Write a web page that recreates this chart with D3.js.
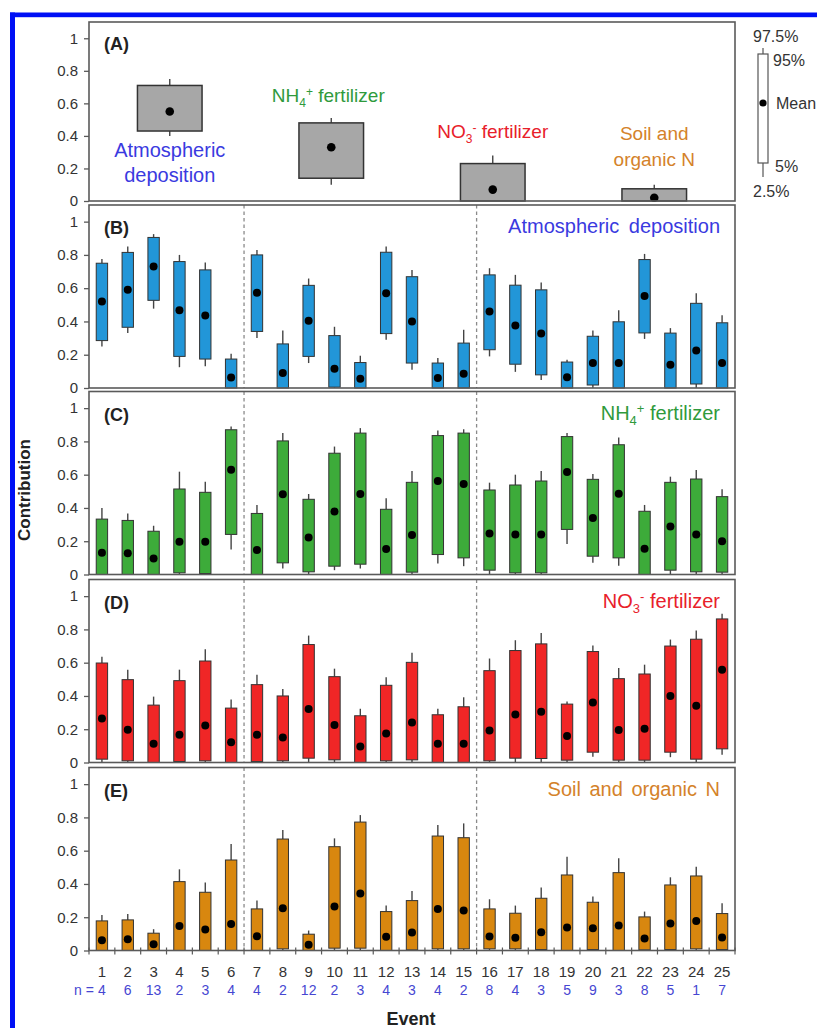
<!DOCTYPE html>
<html>
<head>
<meta charset="utf-8">
<script src="https://cdn.jsdelivr.net/npm/d3@7"></script>
<style>
  html, body { margin: 0; padding: 0; background: #fff; }
  svg { display: block; }
  text { font-family: "Liberation Sans", Arial, sans-serif; }
</style>
</head>
<body>
<svg id="chart" width="817" height="1028"></svg>
<script>
// ---------------- DATA ----------------
const events = d3.range(1, 26);
const nCounts = [4, 6, 13, 2, 3, 4, 4, 2, 12, 2, 3, 4, 3, 4, 2, 8, 4, 3, 5, 9, 3, 8, 5, 1, 7];
const yTickValues = [0, 0.2, 0.4, 0.6, 0.8, 1];
const sources = ["Atmospheric deposition", "NH4+ fertilizer", "NO3- fertilizer", "Soil and organic N"];
// Panel A: overall contribution [p2.5, p5, mean, p95, p97.5]
const overallContribution = [
  [0.40, 0.43, 0.55, 0.71, 0.75],
  [0.10, 0.14, 0.33, 0.48, 0.51],
  [0.00, 0.00, 0.07, 0.23, 0.28],
  [0.00, 0.00, 0.02, 0.075, 0.10]
];
// Per-event [p2.5, p5, mean, p95, p97.5]
const atmosphericDeposition = [
  [0.25,0.285,0.52,0.75,0.775],[0.33,0.365,0.59,0.815,0.85],[0.477,0.527,0.73,0.905,0.925],
  [0.125,0.19,0.467,0.76,0.80],[0.13,0.174,0.436,0.71,0.755],[0,0,0.063,0.174,0.206],
  [0.30,0.34,0.573,0.80,0.83],[0,0,0.09,0.265,0.345],[0.15,0.19,0.404,0.617,0.658],
  [0,0.005,0.115,0.315,0.368],[0,0,0.055,0.153,0.194],[0.29,0.327,0.57,0.816,0.85],
  [0.11,0.15,0.40,0.669,0.71],[0,0,0.06,0.15,0.18],[0,0,0.085,0.27,0.35],
  [0.19,0.23,0.46,0.68,0.72],[0.097,0.143,0.376,0.618,0.68],[0.048,0.079,0.327,0.59,0.634],
  [0,0,0.065,0.156,0.17],[0,0.018,0.15,0.311,0.345],[0,0,0.15,0.398,0.467],
  [0.295,0.331,0.553,0.772,0.806],[0,0,0.14,0.33,0.36],[0,0.024,0.226,0.509,0.57],
  [0,0,0.15,0.392,0.438]
];
const nh4Fertilizer = [
  [0,0,0.13,0.333,0.40],[0,0,0.127,0.325,0.367],[0,0,0.096,0.26,0.293],
  [0,0.01,0.197,0.514,0.618],[0,0.006,0.197,0.494,0.558],[0.15,0.241,0.63,0.87,0.89],
  [0,0,0.147,0.367,0.418],[0.036,0.07,0.482,0.803,0.85],[0,0.016,0.223,0.452,0.484],
  [0.026,0.05,0.378,0.729,0.769],[0.036,0.062,0.484,0.85,0.88],[0,0,0.153,0.392,0.458],
  [0,0.014,0.237,0.554,0.622],[0.066,0.12,0.562,0.835,0.865],[0.05,0.10,0.544,0.85,0.873],
  [0,0.026,0.247,0.508,0.552],[0,0.01,0.241,0.538,0.60],[0,0.01,0.241,0.562,0.622],
  [0.183,0.271,0.616,0.829,0.85],[0.07,0.11,0.339,0.572,0.604],[0.052,0.10,0.486,0.78,0.823],
  [0,0,0.155,0.38,0.418],[0,0.026,0.289,0.554,0.588],[0,0.016,0.241,0.574,0.628],
  [0,0.014,0.20,0.468,0.512]
];
const no3Fertilizer = [
  [0,0.02,0.265,0.598,0.635],[0,0.01,0.197,0.498,0.558],[0,0,0.112,0.345,0.396],
  [0,0.006,0.167,0.492,0.558],[0,0.01,0.223,0.61,0.68],[0,0,0.122,0.327,0.378],
  [0,0.006,0.167,0.468,0.528],[0,0.01,0.151,0.40,0.442],[0,0.026,0.321,0.709,0.763],
  [0,0.016,0.225,0.516,0.564],[0,0,0.096,0.281,0.323],[0,0.01,0.175,0.464,0.512],
  [0,0.016,0.241,0.602,0.659],[0,0,0.112,0.287,0.323],[0,0,0.112,0.335,0.392],
  [0,0.01,0.193,0.552,0.625],[0,0.026,0.289,0.673,0.735],[0,0.024,0.305,0.713,0.779],
  [0,0.014,0.159,0.351,0.367],[0.034,0.062,0.361,0.667,0.703],[0,0.014,0.195,0.504,0.568],
  [0,0.014,0.203,0.532,0.588],[0.032,0.062,0.40,0.70,0.739],[0,0.02,0.341,0.741,0.793],
  [0.046,0.082,0.558,0.863,0.894]
];
const soilOrganicN = [
  [0,0,0.062,0.178,0.214],[0,0,0.068,0.184,0.22],[0,0,0.038,0.104,0.128],
  [0,0,0.148,0.414,0.488],[0,0,0.126,0.35,0.408],[0,0,0.16,0.544,0.64],
  [0,0,0.086,0.25,0.30],[0,0.01,0.254,0.67,0.724],[0,0,0.034,0.098,0.12],
  [0,0.014,0.264,0.624,0.674],[0,0.014,0.342,0.772,0.814],[0,0,0.082,0.234,0.27],
  [0,0.004,0.108,0.30,0.358],[0,0.01,0.25,0.688,0.754],[0,0.01,0.24,0.678,0.764],
  [0,0.01,0.084,0.25,0.308],[0,0.01,0.076,0.224,0.27],[0,0.006,0.11,0.314,0.378],
  [0,0,0.138,0.454,0.564],[0,0.006,0.134,0.29,0.324],[0,0,0.15,0.468,0.554],
  [0,0.004,0.072,0.202,0.234],[0,0.006,0.162,0.394,0.44],[0,0.01,0.178,0.448,0.504],
  [0,0.006,0.078,0.222,0.284]
];
const legendLabels = ["2.5%", "5%", "Mean", "95%", "97.5%"];
const periodBreaks = [7, 16];

// ---------------- DRAW ----------------
const svg = d3.select("#chart");
const X0 = 89, X1 = 735;
const frameColor = "#5a5a5a";
const boxStroke = "#333";

// blue outer border
svg.append("rect").attr("x", 10).attr("y", 12.5).attr("width", 807).attr("height", 4.7).attr("fill", "#0010f5");
svg.append("rect").attr("x", 10).attr("y", 12.5).attr("width", 5).attr("height", 1016).attr("fill", "#0010f5");

function yAxis(g, y) {
  const ax = d3.axisLeft(y).tickValues(yTickValues).tickFormat(d3.format("")).tickSize(5).tickPadding(6).tickSizeOuter(0);
  g.call(ax);
  g.select(".domain").remove();
  g.selectAll(".tick line").attr("stroke", frameColor).attr("stroke-width", 1.3);
  g.selectAll(".tick text").attr("font-size", 15).attr("fill", "#333").attr("font-family", "'Liberation Sans', Arial, sans-serif");
}

function frame(top, zero) {
  svg.append("rect").attr("x", X0).attr("y", top).attr("width", X1 - X0).attr("height", zero - top)
    .attr("fill", "none").attr("stroke", frameColor).attr("stroke-width", 1.6);
}

function panelLabel(txt, top) {
  svg.append("text").attr("x", 104).attr("y", top + 29).attr("font-size", 18).attr("font-weight", "bold")
    .attr("fill", "#222").text(txt);
}

// ---- Panel A ----
{
  const top = 22, zero = 201;
  const y = d3.scaleLinear().domain([0, 1.1]).range([zero, top]);
  const x = d3.scaleBand().domain(sources).range([X0, X1]);
  const bw = x.bandwidth() * 0.4;
  const g = svg.append("g");
  overallContribution.forEach((d, i) => {
    const cx = x(sources[i]) + x.bandwidth() / 2;
    g.append("line").attr("x1", cx).attr("x2", cx).attr("y1", y(d[3])).attr("y2", y(d[4])).attr("stroke", "#444").attr("stroke-width", 1.4);
    if (d[1] > d[0]) g.append("line").attr("x1", cx).attr("x2", cx).attr("y1", y(d[0])).attr("y2", y(d[1])).attr("stroke", "#444").attr("stroke-width", 1.4);
    g.append("rect").attr("x", cx - bw / 2).attr("y", y(d[3])).attr("width", bw).attr("height", y(d[1]) - y(d[3]))
      .attr("fill", "#a7a7a7").attr("stroke", boxStroke).attr("stroke-width", 1.5);
    g.append("circle").attr("cx", cx).attr("cy", y(d[2])).attr("r", 4.3).attr("fill", "#000");
  });
  frame(top, zero);
  yAxis(svg.append("g").attr("transform", `translate(${X0},0)`), y);
  panelLabel("(A)", top - 1);
  const cxA = s => x(s) + x.bandwidth() / 2;
  const t1 = svg.append("text").attr("text-anchor", "middle").attr("font-size", 20).attr("fill", "#3a3ae0");
  t1.append("tspan").attr("x", cxA(sources[0])).attr("y", 157).text("Atmospheric");
  t1.append("tspan").attr("x", cxA(sources[0])).attr("y", 182).text("deposition");
  const t2 = svg.append("text").attr("text-anchor", "middle").attr("x", cxA(sources[1]) - 3).attr("y", 102).attr("font-size", 19).attr("fill", "#2f9a3c");
  t2.append("tspan").text("NH");
  t2.append("tspan").attr("font-size", 12).attr("dy", 5).text("4");
  t2.append("tspan").attr("font-size", 12).attr("dy", -11).text("+");
  t2.append("tspan").attr("dy", 6).text(" fertilizer");
  const t3 = svg.append("text").attr("text-anchor", "middle").attr("x", cxA(sources[2])).attr("y", 138).attr("font-size", 19).attr("fill", "#e8202a");
  t3.append("tspan").text("NO");
  t3.append("tspan").attr("font-size", 12).attr("dy", 5).text("3");
  t3.append("tspan").attr("font-size", 12).attr("dy", -11).text("-");
  t3.append("tspan").attr("dy", 6).text(" fertilizer");
  const t4 = svg.append("text").attr("text-anchor", "middle").attr("font-size", 19).attr("fill", "#d4822a");
  t4.append("tspan").attr("x", cxA(sources[3])).attr("y", 140).text("Soil and");
  t4.append("tspan").attr("x", cxA(sources[3])).attr("y", 166).text("organic N");

  // legend (right)
  const lx = 763;
  const lg = svg.append("g");
  lg.append("line").attr("x1", lx).attr("x2", lx).attr("y1", 48).attr("y2", 177).attr("stroke", "#555").attr("stroke-width", 1.2);
  lg.append("rect").attr("x", lx - 5).attr("y", 54).attr("width", 10).attr("height", 109)
    .attr("fill", "#fff").attr("stroke", "#555").attr("stroke-width", 1.2);
  lg.append("circle").attr("cx", lx).attr("cy", 103).attr("r", 3.6).attr("fill", "#000");
  const lf = "Lato, 'Open Sans', sans-serif";
  const lpos = [[753, 197], [775, 172], [776, 109], [773, 66], [753, 42]];
  legendLabels.forEach((lab, i) => {
    lg.append("text").attr("x", lpos[i][0]).attr("y", lpos[i][1]).attr("font-size", 16).attr("font-family", lf).attr("fill", "#333").text(lab);
  });
}

// ---- Panels B-E ----
const x = d3.scaleBand().domain(events).range([X0, X1]);
const bw = x.bandwidth() * 0.44;
const panelDefs = [
  { label: "(B)", data: atmosphericDeposition, fill: "#2296d8", top: 205, zero: 388, title: "atm", color: "#3a3ae0" },
  { label: "(C)", data: nh4Fertilizer, fill: "#3dab3a", top: 391.5, zero: 574.5, title: "nh4", color: "#2f9a3c" },
  { label: "(D)", data: no3Fertilizer, fill: "#f02626", top: 579.5, zero: 762.5, title: "no3", color: "#e8202a" },
  { label: "(E)", data: soilOrganicN, fill: "#d8870f", top: 767.5, zero: 950.5, title: "soil", color: "#d4822a" }
];

panelDefs.forEach(p => {
  const y = d3.scaleLinear().domain([0, 1.1]).range([p.zero, p.top]);
  const g = svg.append("g");
  periodBreaks.forEach(b => {
    g.append("line").attr("x1", x(b)).attr("x2", x(b)).attr("y1", p.top).attr("y2", p.zero)
      .attr("stroke", "#8a8a8a").attr("stroke-width", 1.3).attr("stroke-dasharray", "3.5,3");
  });
  p.data.forEach((d, i) => {
    const cx = x(events[i]) + x.bandwidth() / 2;
    g.append("line").attr("x1", cx).attr("x2", cx).attr("y1", y(d[3])).attr("y2", y(d[4])).attr("stroke", "#444").attr("stroke-width", 1.4);
    if (d[1] > d[0]) g.append("line").attr("x1", cx).attr("x2", cx).attr("y1", y(d[0])).attr("y2", y(d[1])).attr("stroke", "#444").attr("stroke-width", 1.4);
    g.append("rect").attr("x", cx - bw / 2).attr("y", y(d[3])).attr("width", bw).attr("height", Math.max(0, y(d[1]) - y(d[3])))
      .attr("fill", p.fill).attr("stroke", boxStroke).attr("stroke-width", 1);
    g.append("circle").attr("cx", cx).attr("cy", y(d[2])).attr("r", 4).attr("fill", "#000");
  });
  frame(p.top, p.zero);
  yAxis(svg.append("g").attr("transform", `translate(${X0},0)`), y);
  panelLabel(p.label, p.top);

  const tx = 720, ty = p.top + 28;
  if (p.title === "atm") {
    svg.append("text").attr("x", tx).attr("y", ty).attr("text-anchor", "end").attr("font-size", 20).attr("word-spacing", 4).attr("fill", p.color).text(sources[0]);
  } else if (p.title === "nh4") {
    const t = svg.append("text").attr("x", tx).attr("y", ty).attr("text-anchor", "end").attr("font-size", 20).attr("fill", p.color);
    t.append("tspan").text("NH");
    t.append("tspan").attr("font-size", 13).attr("dy", 5).text("4");
    t.append("tspan").attr("font-size", 13).attr("dy", -12).text("+");
    t.append("tspan").attr("dy", 7).text(" fertilizer");
  } else if (p.title === "no3") {
    const t = svg.append("text").attr("x", tx).attr("y", ty).attr("text-anchor", "end").attr("font-size", 20).attr("fill", p.color);
    t.append("tspan").text("NO");
    t.append("tspan").attr("font-size", 13).attr("dy", 5).text("3");
    t.append("tspan").attr("font-size", 13).attr("dy", -12).text("-");
    t.append("tspan").attr("dy", 7).text(" fertilizer");
  } else {
    svg.append("text").attr("x", tx).attr("y", ty).attr("text-anchor", "end").attr("font-size", 20).attr("word-spacing", 3).attr("fill", p.color).text(sources[3]);
  }

  if (p.label === "(E)") {
    const ax = d3.axisBottom(x).tickSize(0).tickPadding(16).tickSizeOuter(0);
    const ag = svg.append("g").attr("transform", `translate(0,${p.zero})`).call(ax);
    ag.select(".domain").remove();
    ag.selectAll(".tick text").attr("font-size", 15).attr("fill", "#333").attr("font-family", "'Liberation Sans', Arial, sans-serif");
    events.concat([26]).forEach(e => {
      const bx = e <= 25 ? x(e) : X1;
      svg.append("line").attr("x1", bx).attr("x2", bx).attr("y1", p.zero - 3).attr("y2", p.zero + 4).attr("stroke", frameColor).attr("stroke-width", 1.2);
    });
    svg.append("text").attr("x", x(1) + x.bandwidth() / 2 - 8).attr("y", 995).attr("text-anchor", "end")
      .attr("font-size", 14).attr("fill", "#4646d2").text("n =");
    svg.append("g").selectAll("text").data(nCounts).join("text")
      .attr("x", (d, i) => x(events[i]) + x.bandwidth() / 2).attr("y", 995).attr("text-anchor", "middle")
      .attr("font-size", 14).attr("fill", "#4646d2").text(d => d);
    svg.append("text").attr("x", 411).attr("y", 1025).attr("text-anchor", "middle").attr("font-size", 18)
      .attr("font-weight", "bold").attr("fill", "#222").text("Event");
  }
});

// y-axis title
svg.append("text").attr("transform", "translate(30,490) rotate(-90)").attr("text-anchor", "middle")
  .attr("font-size", 17).attr("font-weight", "bold").attr("fill", "#222").text("Contribution");
</script>
</body>
</html>
